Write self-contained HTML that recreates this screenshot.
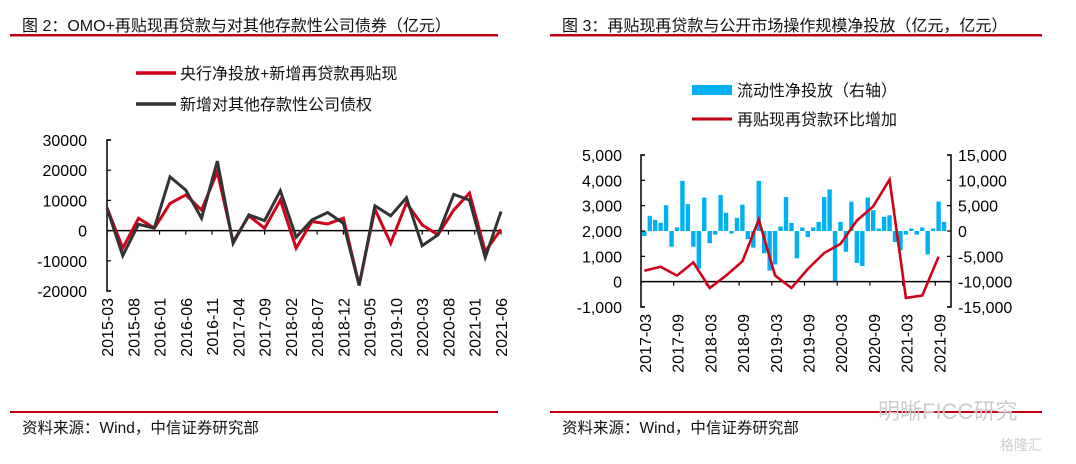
<!DOCTYPE html>
<html><head><meta charset="utf-8"><style>
body{margin:0;background:#fff;width:1076px;height:459px;overflow:hidden;font-family:"Liberation Sans","Noto Sans CJK SC",sans-serif;}
svg text{font-family:"Liberation Sans","Noto Sans CJK SC",sans-serif;}
</style></head><body>
<svg id="c" width="1076" height="459" viewBox="0 0 1076 459">
<text x="22" y="31" font-size="16" fill="#111">图 2：OMO+再贴现再贷款与对其他存款性公司债券（亿元）</text>
<rect x="10" y="34" width="488" height="2.5" fill="#c00010"/>
<text x="562" y="31" font-size="16" fill="#111">图 3：再贴现再贷款与公开市场操作规模净投放（亿元，亿元）</text>
<rect x="550" y="34" width="492" height="2.5" fill="#c00010"/>
<rect x="10" y="411" width="488" height="2" fill="#c00010"/>
<rect x="550" y="411" width="492" height="2" fill="#c00010"/>
<text x="22" y="433" font-size="15.5" fill="#111">资料来源：Wind，中信证券研究部</text>
<text x="562" y="433" font-size="15.5" fill="#111">资料来源：Wind，中信证券研究部</text>
<text x="878" y="419" font-size="22" fill="#ccc">明晰FICC研究</text>
<text x="1000" y="450" font-size="14" fill="#ccc">格隆汇</text>

<g>
<line x1="136" y1="73" x2="176" y2="73" stroke="#d0021b" stroke-width="3.5"/>
<text x="180" y="79" font-size="16" fill="#111">央行净投放+新增再贷款再贴现</text>
<line x1="136" y1="104" x2="176" y2="104" stroke="#333" stroke-width="3.5"/>
<text x="180" y="110" font-size="16" fill="#111">新增对其他存款性公司债权</text>
</g>
<g>
<rect x="692" y="85" width="40" height="10" fill="#00b0f0"/>
<text x="737" y="96" font-size="16" fill="#111">流动性净投放（右轴）</text>
<line x1="692" y1="119" x2="732" y2="119" stroke="#c00010" stroke-width="3"/>
<text x="737" y="125" font-size="16" fill="#111">再贴现再贷款环比增加</text>
</g>
<g id="L"></g>
<g id="R"></g>
</svg>
<script>
// Left chart data (quarterly, 2015-03 .. 2021-06)
const leftRed = [7600,-5800,4100,800,9000,11800,6800,19500,-3700,4900,800,10100,-5800,3000,2200,4100,-18000,7100,-4200,9200,1900,-1400,6800,12400,-6900,400];
const leftBlack = [7400,-8300,2100,800,17800,13400,4100,23000,-4200,5200,3300,13200,-2200,3500,6000,2400,-18200,8200,4900,10900,-5000,-1400,12000,10100,-8900,6300];
const leftYTicks = [30000,20000,10000,0,-10000,-20000];
const leftXLabels = ["2015-03","2015-08","2016-01","2016-06","2016-11","2017-04","2017-09","2018-02","2018-07","2018-12","2019-05","2019-10","2020-03","2020-08","2021-01","2021-06"];
// Right chart data (monthly bars 2017-03.., quarterly line)
const rightBars = [-1000,3000,2200,1600,5100,-3100,700,9900,5300,-3100,-7400,6600,-2400,-700,7100,3600,-500,2600,5200,-1600,-3300,9900,-4400,-7800,-6600,900,6700,1600,-5400,700,-1200,700,1800,6700,8200,-10100,1800,-4100,5800,-6300,-6900,6600,4100,500,2800,3100,-2200,-3800,-700,500,-700,700,-4600,500,5800,1800];
const rightLine = [430,590,240,760,-250,240,800,2450,240,-250,500,1130,1490,2410,2970,4030,-640,-550,990];
const rightLeftTicks = [5000,4000,3000,2000,1000,0,-1000];
const rightRightTicks = [15000,10000,5000,0,-5000,-10000,-15000];
const rightXLabels = ["2017-03","2017-09","2018-03","2018-09","2019-03","2019-09","2020-03","2020-09","2021-03","2021-09"];

const NS="http://www.w3.org/2000/svg";
function mk(p,t,a){const e=document.createElementNS(NS,t);for(const k in a)e.setAttribute(k,a[k]);p.appendChild(e);return e;}
const fmt=v=>v.toLocaleString('en-US');
const FS=16;

// ---- Left
const L=document.getElementById('L');
const lx0=107,lx1=501,ly0=291,ly1=140;
const ly=v=>ly0+(v-(-20000))/(50000)*(ly1-ly0);
const lxm=m=>lx0+m*(lx1-lx0)/75;
const lxq=i=>lxm(i*3);
let ax=mk(L,'path',{d:`M${lx0+4},${ly1} H${lx0} V${ly0} H${lx0+4}`,stroke:'#000','stroke-width':1.5,fill:'none'});

leftYTicks.forEach(v=>{
 const t=mk(L,'line',{x1:lx0,x2:lx0+4,y1:ly(v),y2:ly(v),stroke:'#000','stroke-width':1.2});
 
 const tx=mk(L,'text',{x:lx0-20,y:ly(v)+6,'font-size':FS,'text-anchor':'end',fill:'#000'});tx.textContent=v;
 
});
const zl=mk(L,'line',{x1:lx0,x2:lx1,y1:ly(0),y2:ly(0),stroke:'#000','stroke-width':1.5});

leftXLabels.forEach((s,i)=>{
 const x=lxm(i*5);
 const t=mk(L,'line',{x1:x,x2:x,y1:ly(0),y2:ly(0)+4,stroke:'#000','stroke-width':1.2});
 
 const tx=mk(L,'text',{x:0,y:0,'font-size':FS,'text-anchor':'end',fill:'#000',transform:`translate(${x+6},298) rotate(-90)`});tx.textContent=s;
 
});
function line(g,arr,xf,yf,col,w,name){
 const p=mk(g,'polyline',{points:arr.map((v,i)=>xf(i)+','+yf(v)).join(' '),fill:'none',stroke:col,'stroke-width':w,'stroke-linejoin':'miter'});
 
}
line(L,leftRed,lxq,ly,'#d0021b',3,'series-omo-relending');
line(L,leftBlack,lxq,ly,'#333',3,'series-other-depository-claims');

// ---- Right
const R=document.getElementById('R');
const rx0=641,rx1=951,ry0=307,ry1=155;
const step=5.45;
const rly=v=>ry0+(v-(-1000))/6000*(ry1-ry0);
const rry=v=>ry0+(v-(-15000))/30000*(ry1-ry0);
const rbx=i=>rx0+3.3+i*step;
rightBars.forEach((v,i)=>{
 const y=rry(Math.max(v,0)),h=Math.abs(rry(v)-rry(0));
 const b=mk(R,'rect',{x:rbx(i)-2.2,y:y,width:4.4,height:h,fill:'#00b0f0'});
 
});
let ra=mk(R,'path',{d:`M${rx0+4},${ry1} H${rx0} V${ry0} H${rx0+4}`,stroke:'#000','stroke-width':1.5,fill:'none'});

let rb=mk(R,'path',{d:`M${rx1-4},${ry1} H${rx1} V${ry0} H${rx1-4}`,stroke:'#000','stroke-width':1.5,fill:'none'});

rightLeftTicks.forEach(v=>{
 const t=mk(R,'line',{x1:rx0,x2:rx0+4,y1:rly(v),y2:rly(v),stroke:'#000','stroke-width':1.2});
 
 const tx=mk(R,'text',{x:rx0-19,y:rly(v)+6,'font-size':FS,'text-anchor':'end',fill:'#000'});tx.textContent=fmt(v);
 
});
rightRightTicks.forEach(v=>{
 const t=mk(R,'line',{x1:rx1-4,x2:rx1,y1:rry(v),y2:rry(v),stroke:'#000','stroke-width':1.2});
 
 const tx=mk(R,'text',{x:rx1+7,y:rry(v)+6,'font-size':FS,'text-anchor':'start',fill:'#000'});tx.textContent=fmt(v);
 
});
const rz=mk(R,'line',{x1:rx0,x2:rx1,y1:rly(0),y2:rly(0),stroke:'#000','stroke-width':1.5});

rightXLabels.forEach((s,i)=>{
 const x=rx0+i*6*step;
 const t=mk(R,'line',{x1:x,x2:x,y1:rly(0),y2:rly(0)+4,stroke:'#000','stroke-width':1.2});
 
 const tx=mk(R,'text',{x:0,y:0,'font-size':FS,'text-anchor':'end',fill:'#000',transform:`translate(${x+10},314) rotate(-90)`});tx.textContent=s;
 
});
line(R,rightLine,i=>rbx(i*3),rly,'#d0021b',2.6,'series-relending-change');
</script>
</body></html>
